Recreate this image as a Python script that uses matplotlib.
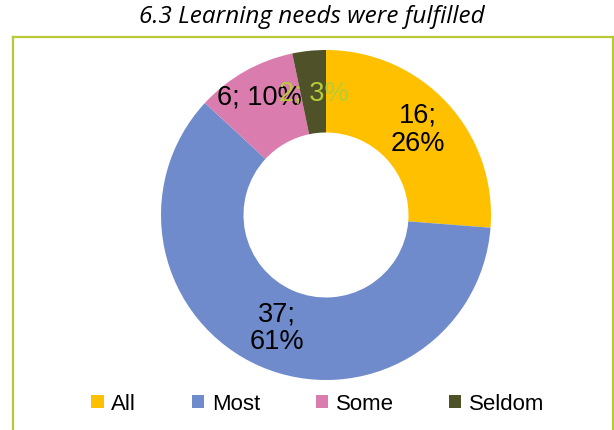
import matplotlib.pyplot as plt
from matplotlib.lines import Line2D
import numpy as np

categories = ['All', 'Most', 'Some', 'Seldom']
counts = [16, 37, 6, 2]
colors = ['#FFC000', '#6F8BCB', '#DA7CAD', '#4F5228']
label_colors = ['black', 'black', 'black', '#B7CC34']
label_radius = [0.76, 0.75, 0.82, 0.74]

plt.rcParams['font.family'] = ['Liberation Sans', 'DejaVu Sans']

fig = plt.figure(figsize=(6.14, 4.30), dpi=100)

# yellow-green frame (open at the bottom)
frame = '#B7C934'
x0, x1, y0 = 13 / 614, 612.5 / 614, 1 - 36.5 / 430
for xs, ys in [([x0, x0], [0, y0]), ([x0, x1], [y0, y0]), ([x1, x1], [y0, 0])]:
    fig.add_artist(Line2D(xs, ys, transform=fig.transFigure, color=frame, lw=1.6))

fig.text(312 / 614, 1 - 17 / 430, '6.3 Learning needs were fulfilled',
         ha='center', va='center', fontsize=17.5, style='italic', family='Open Sans',
         fontstretch='normal')

ax = fig.add_axes([161 / 614, 50 / 430, 330 / 614, 330 / 430])
wedges, _ = ax.pie(counts, colors=colors, startangle=90, counterclock=False,
                   radius=1, wedgeprops=dict(width=0.5, edgecolor='none'))
ax.set_xlim(-1, 1)
ax.set_ylim(-1, 1)
ax.set_aspect('equal')
ax.axis('off')

total = sum(counts)
for w, n, c, r in zip(wedges, counts, label_colors, label_radius):
    pct = round(100 * n / total)
    sep = ';\n' if pct > 20 else '; '
    ang = np.deg2rad((w.theta1 + w.theta2) / 2)
    ax.text(r * np.cos(ang), r * np.sin(ang), f'{n}{sep}{pct}%', color=c,
            ha='center', va='center', fontsize=19.5, linespacing=1.1)

fig.legend(wedges, categories, loc='center', bbox_to_anchor=(318 / 614, 1 - 404 / 430),
           ncol=4, frameon=False, fontsize=16, handlelength=0.55, handleheight=0.55,
           handletextpad=0.35, columnspacing=2.5)

fig.savefig('out.png', dpi=100)
